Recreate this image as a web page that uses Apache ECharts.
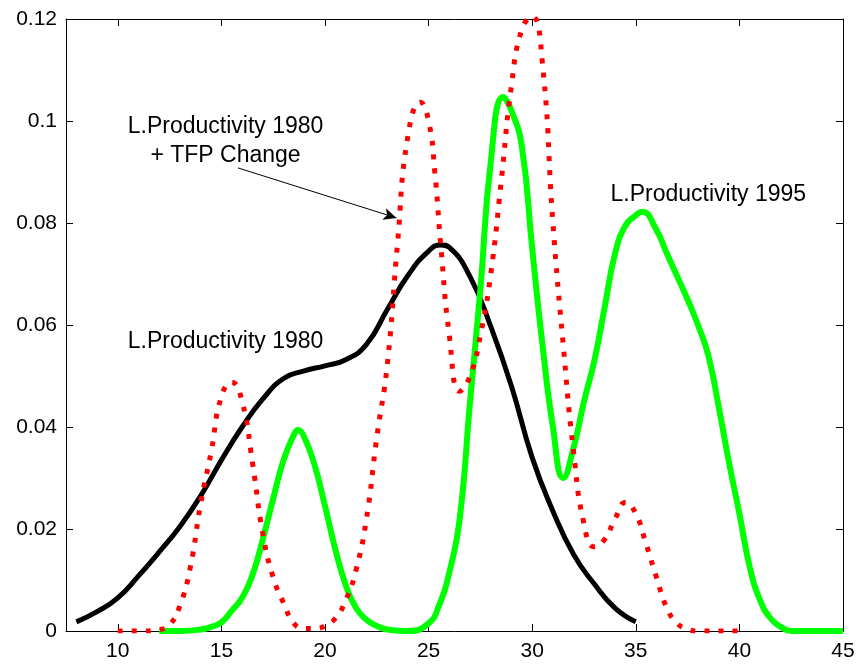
<!DOCTYPE html>
<html>
<head>
<meta charset="utf-8">
<style>
  html, body { margin: 0; padding: 0; background: #fff; }
  #chart { width: 859px; height: 668px; }
</style>
<script src="https://cdn.jsdelivr.net/npm/echarts@6/dist/echarts.min.js"></script>
</head>
<body>
<div id="chart"></div>
<script>
// axis ticks
const xTicks = [10, 15, 20, 25, 30, 35, 40, 45];

// L.Productivity 1980 (black)
const x1980 = [8, 9, 10, 11, 12, 13, 14, 15, 16, 17, 18, 19, 20, 21, 22, 23, 24, 25, 25.6, 26, 27, 28, 29, 30, 31, 32, 33, 34, 35];
const y1980 = [0.0018, 0.0038, 0.0065, 0.0108, 0.0155, 0.0205, 0.0265, 0.0335, 0.040, 0.0455, 0.0495, 0.051, 0.052, 0.0532, 0.0562, 0.063, 0.0697, 0.0745, 0.0757, 0.0752, 0.0695, 0.0597, 0.048, 0.034, 0.0235, 0.015, 0.0092, 0.0045, 0.0018];

// L.Productivity 1995 (green)
const x1995 = [12, 13, 14, 14.5, 15, 15.5, 16, 16.5, 17, 17.5, 18, 18.5, 18.7, 19, 19.5, 20, 20.5, 21, 21.5, 22, 22.5, 23, 24, 25, 25.5, 26, 26.5, 27, 27.5, 28, 28.6, 29, 29.5, 30, 30.5, 31, 31.5, 32, 32.5, 33, 33.5, 34, 34.5, 35, 35.3, 36, 36.5, 37, 37.5, 38, 38.5, 39, 39.5, 40, 40.5, 41, 41.5, 42, 42.5, 45];
const y1995 = [0, 0, 0.0003, 0.0008, 0.0017, 0.004, 0.0065, 0.011, 0.018, 0.026, 0.0335, 0.0385, 0.0394, 0.038, 0.0325, 0.0245, 0.016, 0.009, 0.0045, 0.0022, 0.001, 0.0003, 0, 0.0015, 0.005, 0.0115, 0.022, 0.045, 0.067, 0.092, 0.1047, 0.102, 0.095, 0.075, 0.056, 0.040, 0.030, 0.036, 0.045, 0.053, 0.0635, 0.074, 0.0795, 0.0815, 0.0822, 0.0786, 0.074, 0.0695, 0.065, 0.060, 0.054, 0.044, 0.033, 0.023, 0.0125, 0.006, 0.0025, 0.0008, 0, 0];

// L.Productivity 1980 + TFP Change (red dotted)
const xTfp = [10, 11, 12, 12.5, 13, 13.5, 14, 14.5, 15, 15.5, 16, 16.5, 17, 17.5, 18, 18.5, 19, 19.5, 20, 20.5, 21, 21.5, 22, 22.5, 23, 23.5, 24, 24.6, 25, 25.3, 25.6, 26, 26.5, 27, 27.5, 28, 28.5, 29, 29.5, 30, 30.5, 31, 31.5, 32, 32.5, 33, 33.5, 34, 34.5, 35, 35.5, 36, 36.5, 37, 37.5, 38, 40];
const yTfp = [0, 0, 0.0003, 0.0012, 0.005, 0.0125, 0.025, 0.035, 0.046, 0.0488, 0.045, 0.033, 0.019, 0.0105, 0.0055, 0.0015, 0.0005, 0.0005, 0.001, 0.0025, 0.006, 0.012, 0.022, 0.038, 0.052, 0.076, 0.097, 0.1037, 0.100, 0.090, 0.075, 0.058, 0.047, 0.050, 0.058, 0.070, 0.088, 0.107, 0.118, 0.1205, 0.111, 0.080, 0.056, 0.035, 0.021, 0.0165, 0.018, 0.022, 0.0252, 0.023, 0.017, 0.0105, 0.0045, 0.0015, 0.0004, 0, 0];

// annotation anchors (data coords)
const noteTfp = ['L.Productivity 1980', '+ TFP Change'];
const noteTfpPos = [[15.2, 0.0988], [15.2, 0.0933]];
const arrowFrom = [15.8, 0.0908];
const arrowTo = [23.45, 0.0810];
const note1980 = 'L.Productivity 1980';
const note1980Pos = [15.2, 0.0567];
const note1995 = 'L.Productivity 1995';
const note1995Pos = [38.5, 0.0855];

const zip = (xs, ys) => xs.map((x, i) => [x, ys[i]]);

const FONT = 'Liberation Sans, Arial, Helvetica, sans-serif';
const FS = 21;   // tick labels
const NFS = 23;  // annotations

const chart = echarts.init(document.getElementById('chart'));

const boxAxis = {
  axisLine: { show: true, onZero: false, lineStyle: { color: '#000', width: 1 } },
  axisTick: { show: true, inside: true, length: 7, lineStyle: { color: '#000', width: 1 } },
  splitLine: { show: false }
};

const option = {
  animation: false,
  backgroundColor: '#fff',
  grid: { left: 66, right: 16, top: 19, bottom: 37 },
  xAxis: [
    {
      type: 'value', min: 7.5, max: 45, position: 'bottom',
      ...boxAxis,
      axisTick: { ...boxAxis.axisTick, customValues: xTicks },
      axisLabel: { customValues: xTicks, color: '#000', fontSize: FS, fontFamily: FONT, margin: 10 }
    },
    {
      type: 'value', min: 7.5, max: 45, position: 'top',
      ...boxAxis,
      axisTick: { ...boxAxis.axisTick, customValues: xTicks },
      axisLabel: { show: false }
    }
  ],
  yAxis: [
    {
      type: 'value', min: 0, max: 0.12, interval: 0.02, position: 'left',
      ...boxAxis,
      axisLabel: { color: '#000', fontSize: FS, fontFamily: FONT, margin: 9 }
    },
    {
      type: 'value', min: 0, max: 0.12, interval: 0.02, position: 'right',
      ...boxAxis,
      axisLabel: { show: false }
    }
  ],
  series: [
    {
      name: note1980, type: 'line', data: zip(x1980, y1980),
      smooth: 0.5, showSymbol: false,
      lineStyle: { color: '#000', width: 5 },
      markLine: {
        silent: true, symbol: ['none', 'arrow'], symbolSize: [9, 13],
        label: { show: false },
        lineStyle: { color: '#000', width: 1, type: 'solid' },
        data: [[{ coord: arrowFrom }, { coord: arrowTo }]]
      }
    },
    {
      name: note1995, type: 'line', data: zip(x1995, y1995),
      smooth: 0.5, showSymbol: false,
      lineStyle: { color: '#00ff00', width: 6 }
    },
    {
      name: 'L.Productivity 1980 + TFP Change', type: 'line', data: zip(xTfp, yTfp),
      smooth: 0.5, showSymbol: false,
      lineStyle: { color: '#ff0000', width: 5, type: [5, 9], cap: 'butt' }
    }
  ]
};

chart.setOption(option);

// place annotation texts at their data positions
const textAt = (str, pos) => {
  const p = chart.convertToPixel({ gridIndex: 0 }, pos);
  return {
    type: 'text', x: p[0], y: p[1], silent: true,
    style: { text: str, fill: '#000', font: NFS + 'px ' + FONT, align: 'center', verticalAlign: 'middle' }
  };
};

chart.setOption({
  graphic: [
    textAt(noteTfp[0], noteTfpPos[0]),
    textAt(noteTfp[1], noteTfpPos[1]),
    textAt(note1980, note1980Pos),
    textAt(note1995, note1995Pos)
  ]
});
</script>
</body>
</html>
